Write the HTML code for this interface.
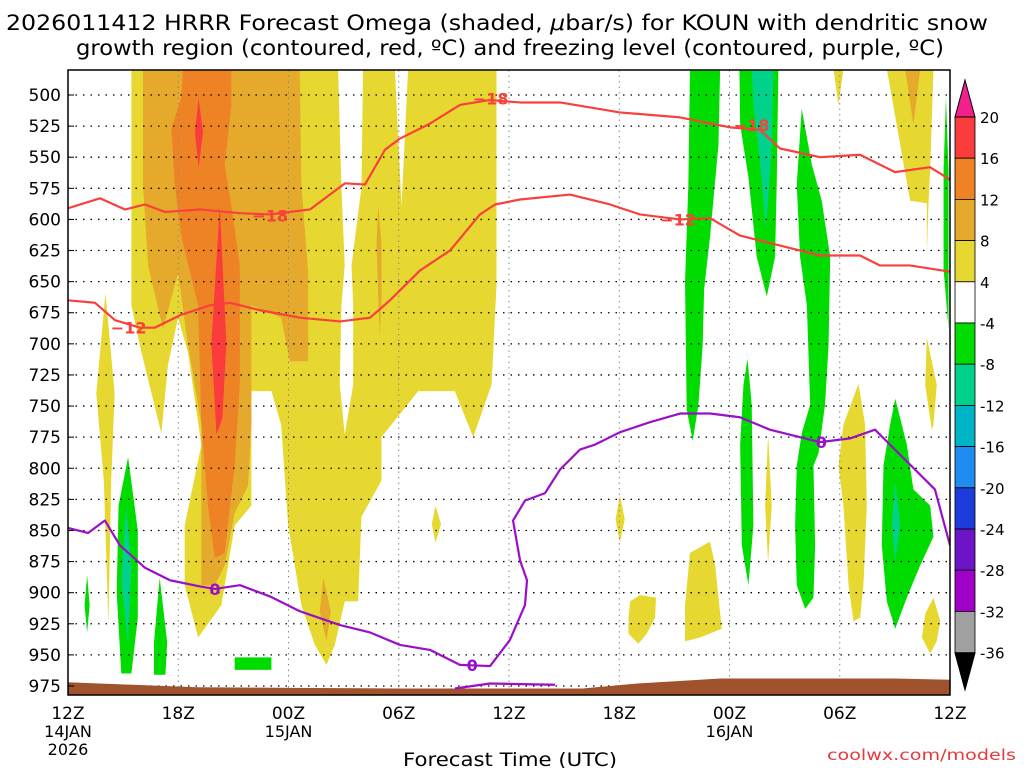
<!DOCTYPE html>
<html><head><meta charset="utf-8"><style>
body{margin:0;background:#fff;}
svg{display:block;font-family:"DejaVu Sans","Liberation Sans",sans-serif;}
</style></head><body>
<svg id="c" width="1024" height="768"></svg>
<script>
const hoursTicks=[0,6,12,18,24,30,36,42,48];
const hourLabels=["12Z","18Z","00Z","06Z","12Z","18Z","00Z","06Z","12Z"];
const dateLabels={0:["14JAN","2026"],12:["15JAN"],36:["16JAN"]};
const pLevels=[500,525,550,575,600,625,650,675,700,725,750,775,800,825,850,875,900,925,950,975];
const cbLevels=[20,16,12,8,4,-4,-8,-12,-16,-20,-24,-28,-32,-36];
const cbColors=["#fb3c3c","#ee8326","#e5a92b","#e6d830","#ffffff","#00dc00","#00d28c","#00b4c8","#1e8cf0","#1e3cdc","#6e14c8","#a000c8","#a0a0a0"];
const m18Line=[[0,591],[1.74,583],[3.1,592],[4.19,588],[5.28,594],[7.18,592],[9.36,595],[10.99,596],[13.17,592],[14.26,580],[15.07,571],[16.16,572],[17.25,544],[18.07,535],[19.7,523],[21.33,508],[22.97,504],[24.6,506],[26.78,506],[30.04,514],[33.31,518],[36.03,526],[37.66,528],[38.75,543],[40.93,550],[43.1,548],[45.01,562],[46.91,558],[48,568]];
const m12Line=[[0,665],[1.47,667],[2.56,681],[3.92,687],[4.73,687],[6.1,677],[7.73,669],[8.82,667],[10.45,673],[12.63,679],[14.8,682],[16.44,679],[17.52,665],[19.16,641],[20.79,625],[22.42,596],[23.24,588],[24.6,584],[27.32,580],[29.5,588],[31.13,596],[33.31,600],[34.94,599],[36.57,613],[38.75,621],[40.93,629],[43.1,629],[44.19,637],[45.82,637],[48,642]];
const zeroLine=[[0,848],[1.09,852],[2.01,842],[2.83,862],[4.19,880],[5.55,890],[7.18,895],[7.99,897],[9.36,894],[10.99,903],[12.63,915],[14.8,926],[16.44,932],[18.07,942],[19.7,946],[21.33,958],[22.97,959],[24.05,938],[24.87,910],[24.98,890],[24.6,874],[24.22,842],[24.87,826],[25.96,820],[26.78,801],[27.86,785],[28.68,781],[30.04,771],[31.67,763],[33.31,756],[34.94,756],[36.57,759],[38.2,769],[39.84,775],[40.93,779],[42.56,776],[43.92,769],[44.73,781],[45.82,797],[47.18,817],[48,862]];
const zeroLine2=[[21.06,977],[22.97,973],[26.5,974]];
const m18Labels=[[11.0,597],[23.0,503],[37.2,524]];
const m12Labels=[[3.3,687],[33.2,600]];
const zeroLabels=[[8.0,897],[22.0,958],[41.0,779]];
const terrain=[[0,972],[7,976],[18,977],[28,977],[31,973],[35.5,969],[45,969],[48,970]];
const yellowMain=[[3.45,479],[23.32,479],[23.32,653],[23.05,733],[22.05,775],[21.05,738],[19.06,738],[17.06,775],[17.06,810],[15.97,839],[15.79,907],[15.06,907],[14.52,942],[14.07,958],[13.43,942],[12.7,910],[11.98,846],[11.6,765],[11.07,738],[9.98,738],[9.98,830],[9.07,846],[8.35,910],[7.08,936],[6.35,894],[6.35,846],[7.26,781],[6.53,707],[5.99,679],[5.44,717],[5.08,772],[4.0,707],[3.45,669]];
const gap1=[[14.7,479],[16.06,479],[15.97,574],[15.43,637],[15.52,669],[15.52,733],[15.06,773],[14.79,733],[14.88,669],[15.06,637],[14.88,574]];
const gap2=[[17.79,479],[18.51,479],[18.15,589]];
const tanMain=[[4.08,479],[12.61,479],[12.7,572],[13.07,643],[13.07,714],[12.07,714],[11.6,679],[9.98,669],[9.98,765],[9.8,814],[9.07,836],[8.53,878],[7.99,894],[7.26,894],[7.26,765],[6.53,701],[5.99,643],[5.17,688],[4.36,637],[4.08,572]];
const tanSmall1=[[16.88,589],[17.06,620],[17.06,660],[16.97,694],[16.88,660],[16.79,620]];
const tanSmall2=[[13.9,888],[14.3,915],[14.07,939],[13.7,915]];
const orangeMain=[[6.26,479],[8.89,479],[8.89,508],[8.53,556],[8.89,589],[9.35,637],[9.35,733],[9.07,798],[8.53,868],[7.99,872],[7.62,830],[7.26,765],[7.08,669],[6.17,614],[5.81,572],[5.63,527],[6.17,502]];
const redA=[[6.9,530],[7.11,503],[7.35,530],[7.11,558]];
const redB=[[7.8,700],[8.26,589],[8.62,700],[8.4,760],[8.08,773]];
const yellowThin=[[2.04,659],[2.54,740],[2.35,810],[2.2,926],[1.95,810],[1.54,740]];
const greenL1=[[3.27,791],[3.8,850],[3.8,920],[3.45,965],[2.9,965],[2.65,900],[2.75,830]];
const tealL1=[[3.17,830],[3.45,880],[3.27,942],[2.9,890]];
const greenL2=[[1.04,886],[1.18,910],[1.04,932],[0.9,910]];
const greenL3=[[4.99,888],[5.4,940],[5.3,966],[4.68,966],[4.68,940]];
const greenL4=[[9.07,952],[11.07,952],[11.07,962],[9.07,962]];
const greenR1=[[33.85,479],[35.49,479],[35.4,540],[34.94,614],[34.62,656],[34.54,701],[34.31,749],[34.0,778],[33.67,753],[33.58,650],[33.76,572]];
const greenR2=[[36.54,479],[38.66,479],[38.57,572],[38.48,630],[38.03,662],[37.48,630],[37.03,566],[36.58,524]];
const tealR2=[[37.21,479],[38.39,479],[38.3,540],[37.99,608],[37.67,556],[37.3,508]];
const greenR3=[[39.93,511],[40.48,556],[41.02,585],[41.48,630],[41.39,701],[41.2,749],[40.84,788],[40.57,798],[40.66,862],[40.57,904],[40.12,913],[39.66,894],[39.57,846],[39.66,798],[39.93,772],[40.39,749],[40.21,669],[39.84,630],[39.66,572]];
const greenR4=[[36.98,712],[37.21,749],[37.3,846],[37.03,894],[36.67,862],[36.58,781],[36.76,733]];
const greenR5=[[45.02,744],[45.65,781],[46.01,817],[46.92,830],[47.1,855],[46.38,878],[45.65,904],[45.02,929],[44.56,907],[44.29,862],[44.38,798],[44.74,765]];
const tealR5=[[45.02,810],[45.29,846],[45.02,875],[44.84,846]];
const greenR6=[[47.78,502],[47.92,560],[47.92,688],[47.65,640],[47.65,560]];
const yellowR1=[[44.56,479],[47.1,479],[46.92,560],[46.83,587],[46.74,630],[46.74,695],[47.28,733],[47.1,765],[47.01,769],[46.65,733],[46.74,695],[46.74,587],[45.83,585],[45.29,540]];
const tanR1=[[45.56,479],[46.38,479],[46.01,524]];
const yellowR2=[[41.66,479],[42.2,479],[41.93,508]];
const yellowR3=[[43.02,732],[43.38,765],[43.47,830],[43.29,894],[43.11,920],[42.75,923],[42.48,894],[42.2,830],[41.93,798],[42.2,765]];
const yellowR4=[[38.1,772],[38.3,830],[38.1,876],[37.94,830]];
const yellowR5=[[34.94,859],[35.22,878],[35.58,929],[34.4,936],[33.58,939],[33.58,910],[33.85,868]];
const yellowR6=[[30.59,907],[31.13,902],[32.0,904],[31.95,920],[31.5,933],[31.04,941],[30.5,933],[30.5,920]];
const yellowR7=[[30.04,822],[30.3,841],[30.04,860],[29.8,841]];
const yellowR8=[[47.1,904],[47.47,923],[47.28,939],[46.92,949],[46.47,936],[46.65,917]];
const yellowLeftMid=[[20.0,830],[20.3,845],[20.0,860],[19.8,845]];

const X0=68,X1=950,Y0=70,Y1=695;
const xs=h=>X0+(h/48)*(X1-X0);
const ys=p=>95+(p-500)*1.2442;
const NS="http://www.w3.org/2000/svg";
const svg=document.getElementById('c');
function mk(tag,attrs,parent){const e=document.createElementNS(NS,tag);for(const k in attrs)e.setAttribute(k,attrs[k]);(parent||svg).appendChild(e);return e;}
const clip=mk('clipPath',{id:'pc'});mk('rect',{x:X0,y:Y0,width:X1-X0,height:Y1-Y0},clip);
const plot=mk('g',{'clip-path':'url(#pc)'});
function poly(pts,fill,name){const e=mk('polygon',{points:pts.map(q=>xs(q[0])+','+ys(q[1])).join(' '),fill:fill},plot);

}
const Y="#e6d830",T="#e5a92b",O="#ee8326",R="#fb3c3c",G="#00dc00",TL="#00d28c";
poly(yellowMain,Y,'omega-shade-yellow');poly(gap1,'#fff','omega-gap');poly(gap2,'#fff','omega-gap');
poly(tanMain,T,'omega-shade-tan');poly(tanSmall1,T,'omega-shade-tan');poly(tanSmall2,T,'omega-shade-tan');
poly(orangeMain,O,'omega-shade-orange');poly(redA,R,'omega-shade-red');poly(redB,R,'omega-shade-red');
poly(yellowThin,Y,'omega-shade-yellow');
poly(greenL1,G,'omega-shade-green');poly(tealL1,TL,'omega-shade-teal');poly(greenL2,G,'omega-shade-green');poly(greenL3,G,'omega-shade-green');poly(greenL4,G,'omega-shade-green');
poly(greenR1,G,'omega-shade-green');poly(greenR2,G,'omega-shade-green');poly(tealR2,TL,'omega-shade-teal');poly(greenR3,G,'omega-shade-green');poly(greenR4,G,'omega-shade-green');poly(greenR5,G,'omega-shade-green');poly(tealR5,TL,'omega-shade-teal');poly(greenR6,G,'omega-shade-green');
poly(yellowR1,Y,'omega-shade-yellow');poly(tanR1,T,'omega-shade-tan');poly(yellowR2,Y,'omega-shade-yellow');poly(yellowR3,Y,'omega-shade-yellow');poly(yellowR4,Y,'omega-shade-yellow');poly(yellowR5,Y,'omega-shade-yellow');poly(yellowR6,Y,'omega-shade-yellow');poly(yellowR7,Y,'omega-shade-yellow');poly(yellowR8,Y,'omega-shade-yellow');poly(yellowLeftMid,Y,'omega-shade-yellow');
pLevels.forEach(p=>{const l=mk('line',{x1:X0,x2:X1,y1:ys(p),y2:ys(p),stroke:'#000','stroke-width':1.3,'stroke-dasharray':'1.5 6'},plot);

});
hoursTicks.forEach(h=>{const l=mk('line',{x1:xs(h),x2:xs(h),y1:Y0,y2:Y1,stroke:'#888','stroke-width':1,'stroke-dasharray':'1.5 4'},plot);

});
const tp=terrain.map(q=>xs(q[0])+','+ys(q[1])).join(' ')+' '+xs(48)+','+Y1+' '+xs(0)+','+Y1;
const ter=mk('polygon',{points:tp,fill:'#a0522d'},plot);


function line(pts,col,name){const e=mk('polyline',{points:pts.map(q=>xs(q[0])+','+ys(q[1])).join(' '),fill:'none',stroke:col,'stroke-width':2.2,'stroke-linejoin':'round'},plot);

}
line(m18Line,'#f8403c','contour-minus18');line(m12Line,'#f8403c','contour-minus12');
line(zeroLine,'#9a10c8','freezing-level');line(zeroLine2,'#9a10c8','freezing-level-2');
function lab(arr,txt,col){arr.forEach(q=>{const t=mk('text',{x:xs(q[0]),y:ys(q[1])+6,fill:col,'font-size':16,'font-weight':'bold','text-anchor':'middle'},plot);t.textContent=txt;

});}
lab(m18Labels,'−18','#f8403c');lab(m12Labels,'−12','#f8403c');lab(zeroLabels,'0','#9a10c8');
const fr=mk('rect',{x:X0,y:Y0,width:X1-X0,height:Y1-Y0,fill:'none',stroke:'#000','stroke-width':1.5});


pLevels.forEach(p=>{const t=mk('text',{x:61,y:ys(p)+6,'font-size':17,'text-anchor':'end',fill:'#000'});t.textContent=p;


mk('line',{x1:X0,x2:X0+6,y1:ys(p),y2:ys(p),stroke:'#000'});});
hoursTicks.forEach((h,i)=>{const t=mk('text',{x:xs(h),y:719,'font-size':17,'text-anchor':'middle',fill:'#000'});t.textContent=hourLabels[i];


(dateLabels[h]||[]).forEach((d,j)=>{const u=mk('text',{x:xs(h),y:737+j*18,'font-size':16,'text-anchor':'middle',fill:'#000'});u.textContent=d;

});});
const xt=mk('text',{x:403,y:766,'font-size':19,fill:'#000',textLength:214,lengthAdjust:'spacingAndGlyphs'});xt.textContent='Forecast Time (UTC)';


const cr=mk('text',{x:827,y:760,'font-size':15,fill:'#e8383c',textLength:189,lengthAdjust:'spacingAndGlyphs'});cr.textContent='coolwx.com/models';


const t1=mk('text',{x:6,y:30,'font-size':21,fill:'#000',textLength:982,lengthAdjust:'spacingAndGlyphs'});t1.innerHTML='2026011412 HRRR Forecast Omega (shaded, <tspan font-style="italic">μ</tspan>bar/s) for KOUN with dendritic snow';


const t2=mk('text',{x:76,y:55,'font-size':21,fill:'#000',textLength:868,lengthAdjust:'spacingAndGlyphs'});t2.textContent='growth region (contoured, red, ºC) and freezing level (contoured, purple, ºC)';


const cbY=l=>117+(cbLevels.indexOf(l))*41.2;
cbColors.forEach((c,i)=>{const r=mk('rect',{x:955,y:cbY(cbLevels[i]),width:20,height:41.2,fill:c,stroke:'#000','stroke-width':0.8});

});
const tu=mk('polygon',{points:'955,117 975,117 965,80',fill:'#f0208c',stroke:'#000'});


const td=mk('polygon',{points:'955,653 975,653 965,690',fill:'#000',stroke:'#000'});


cbLevels.forEach(l=>{const t=mk('text',{x:980,y:cbY(l)+6,'font-size':15,fill:'#000'});t.textContent=l;

});
</script>
</body></html>
